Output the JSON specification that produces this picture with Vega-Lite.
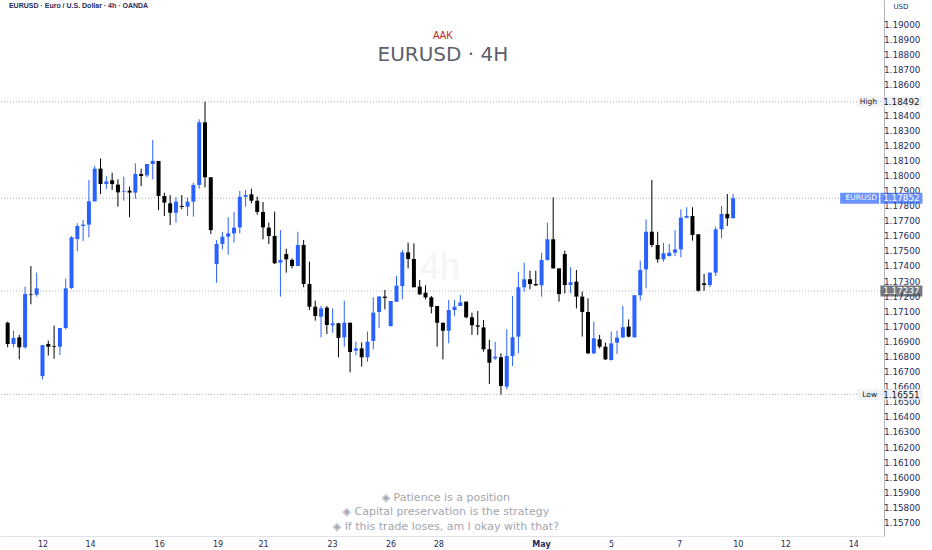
{
  "$schema": "https://vega.github.io/schema/vega-lite/v6.json",
  "description": "EURUSD 4h candles, OANDA",
  "autosize": {"type": "none"},
  "width": 884,
  "height": 536,
  "padding": {"left": 0, "top": 0, "right": 48, "bottom": 14},
  "background": "#ffffff",
  "config": {"view": {"stroke": null}, "font": "Liberation Sans", "axis": {"labelOverlap": false, "labelFlush": false, "grid": false, "ticks": false}},
  "datasets": {
    "candles": [
      {"t":0,"open":1.17027,"high":1.17034,"low":1.16864,"close":1.16886},
      {"t":1,"open":1.16886,"high":1.16974,"low":1.16864,"close":1.16926},
      {"t":2,"open":1.16930,"high":1.16946,"low":1.16784,"close":1.16864},
      {"t":3,"open":1.16864,"high":1.17266,"low":1.16855,"close":1.17217},
      {"t":4,"open":1.17217,"high":1.17403,"low":1.17149,"close":1.17213},
      {"t":5,"open":1.17213,"high":1.17359,"low":1.17200,"close":1.17255},
      {"t":6,"open":1.16674,"high":1.16879,"low":1.16652,"close":1.16879},
      {"t":7,"open":1.16886,"high":1.16908,"low":1.16809,"close":1.16868},
      {"t":8,"open":1.16873,"high":1.17008,"low":1.16789,"close":1.16868},
      {"t":9,"open":1.16868,"high":1.16992,"low":1.16813,"close":1.16992},
      {"t":10,"open":1.16992,"high":1.17319,"low":1.16983,"close":1.17255},
      {"t":11,"open":1.17257,"high":1.17600,"low":1.17250,"close":1.17593},
      {"t":12,"open":1.17582,"high":1.17686,"low":1.17500,"close":1.17668},
      {"t":13,"open":1.17668,"high":1.17708,"low":1.17569,"close":1.17677},
      {"t":14,"open":1.17677,"high":1.17973,"low":1.17593,"close":1.17831},
      {"t":15,"open":1.17831,"high":1.18066,"low":1.17831,"close":1.18048},
      {"t":16,"open":1.18048,"high":1.18116,"low":1.17880,"close":1.17946},
      {"t":17,"open":1.17946,"high":1.17999,"low":1.17913,"close":1.17964},
      {"t":18,"open":1.17971,"high":1.18021,"low":1.17907,"close":1.17946},
      {"t":19,"open":1.17942,"high":1.17977,"low":1.17796,"close":1.17891},
      {"t":20,"open":1.17893,"high":1.17995,"low":1.17836,"close":1.17898},
      {"t":21,"open":1.17902,"high":1.17929,"low":1.17726,"close":1.17889},
      {"t":22,"open":1.17889,"high":1.18083,"low":1.17849,"close":1.18013},
      {"t":23,"open":1.18013,"high":1.18048,"low":1.17933,"close":1.17999},
      {"t":24,"open":1.18004,"high":1.18079,"low":1.17991,"close":1.18079},
      {"t":25,"open":1.18079,"high":1.18238,"low":1.17977,"close":1.18099},
      {"t":26,"open":1.18099,"high":1.18099,"low":1.17774,"close":1.17867},
      {"t":27,"open":1.17867,"high":1.17889,"low":1.17734,"close":1.17823},
      {"t":28,"open":1.17818,"high":1.17873,"low":1.17675,"close":1.17756},
      {"t":29,"open":1.17756,"high":1.17858,"low":1.17690,"close":1.17829},
      {"t":30,"open":1.17801,"high":1.17873,"low":1.17778,"close":1.17794},
      {"t":31,"open":1.17796,"high":1.17858,"low":1.17734,"close":1.17829},
      {"t":32,"open":1.17829,"high":1.17955,"low":1.17730,"close":1.17940},
      {"t":33,"open":1.17940,"high":1.18375,"low":1.17915,"close":1.18355},
      {"t":34,"open":1.18355,"high":1.18492,"low":1.17924,"close":1.17991},
      {"t":35,"open":1.17991,"high":1.17991,"low":1.17615,"close":1.17641},
      {"t":36,"open":1.17416,"high":1.17575,"low":1.17292,"close":1.17549},
      {"t":37,"open":1.17549,"high":1.17630,"low":1.17513,"close":1.17597},
      {"t":38,"open":1.17597,"high":1.17726,"low":1.17478,"close":1.17619},
      {"t":39,"open":1.17619,"high":1.17761,"low":1.17558,"close":1.17657},
      {"t":40,"open":1.17659,"high":1.17900,"low":1.17619,"close":1.17862},
      {"t":41,"open":1.17862,"high":1.17907,"low":1.17796,"close":1.17873},
      {"t":42,"open":1.17878,"high":1.17915,"low":1.17818,"close":1.17836},
      {"t":43,"open":1.17836,"high":1.17862,"low":1.17743,"close":1.17761},
      {"t":44,"open":1.17761,"high":1.17827,"low":1.17580,"close":1.17659},
      {"t":45,"open":1.17657,"high":1.17690,"low":1.17549,"close":1.17602},
      {"t":46,"open":1.17602,"high":1.17763,"low":1.17416,"close":1.17421},
      {"t":47,"open":1.17425,"high":1.17641,"low":1.17200,"close":1.17443},
      {"t":48,"open":1.17482,"high":1.17518,"low":1.17359,"close":1.17447},
      {"t":49,"open":1.17443,"high":1.17454,"low":1.17387,"close":1.17403},
      {"t":50,"open":1.17403,"high":1.17630,"low":1.17403,"close":1.17542},
      {"t":51,"open":1.17542,"high":1.17575,"low":1.17262,"close":1.17284},
      {"t":52,"open":1.17284,"high":1.17432,"low":1.17111,"close":1.17133},
      {"t":53,"open":1.17133,"high":1.17173,"low":1.17041,"close":1.17072},
      {"t":54,"open":1.17067,"high":1.17138,"low":1.16930,"close":1.17122},
      {"t":55,"open":1.17127,"high":1.17138,"low":1.16952,"close":1.17012},
      {"t":56,"open":1.17010,"high":1.17122,"low":1.16961,"close":1.17023},
      {"t":57,"open":1.17023,"high":1.17027,"low":1.16798,"close":1.16926},
      {"t":58,"open":1.16930,"high":1.17173,"low":1.16868,"close":1.17027},
      {"t":59,"open":1.17027,"high":1.17027,"low":1.16698,"close":1.16833},
      {"t":60,"open":1.16842,"high":1.16901,"low":1.16811,"close":1.16857},
      {"t":61,"open":1.16857,"high":1.16897,"low":1.16736,"close":1.16798},
      {"t":62,"open":1.16798,"high":1.16968,"low":1.16769,"close":1.16901},
      {"t":63,"open":1.16906,"high":1.17195,"low":1.16851,"close":1.17094},
      {"t":64,"open":1.17098,"high":1.17204,"low":1.16992,"close":1.17200},
      {"t":65,"open":1.17200,"high":1.17244,"low":1.17116,"close":1.17191},
      {"t":66,"open":1.17005,"high":1.17171,"low":1.17001,"close":1.17171},
      {"t":67,"open":1.17166,"high":1.17337,"low":1.17166,"close":1.17273},
      {"t":68,"open":1.17270,"high":1.17509,"low":1.17182,"close":1.17493},
      {"t":69,"open":1.17493,"high":1.17558,"low":1.17387,"close":1.17449},
      {"t":70,"open":1.17449,"high":1.17553,"low":1.17262,"close":1.17262},
      {"t":71,"open":1.17266,"high":1.17310,"low":1.17211,"close":1.17215},
      {"t":72,"open":1.17226,"high":1.17275,"low":1.17182,"close":1.17195},
      {"t":73,"open":1.17195,"high":1.17204,"low":1.17089,"close":1.17133},
      {"t":74,"open":1.17138,"high":1.17138,"low":1.16868,"close":1.17027},
      {"t":75,"open":1.17027,"high":1.17027,"low":1.16784,"close":1.16974},
      {"t":76,"open":1.16974,"high":1.17178,"low":1.16890,"close":1.17111},
      {"t":77,"open":1.17111,"high":1.17178,"low":1.17072,"close":1.17133},
      {"t":78,"open":1.17138,"high":1.17211,"low":1.17138,"close":1.17162},
      {"t":79,"open":1.17167,"high":1.17167,"low":1.17056,"close":1.17063},
      {"t":80,"open":1.17063,"high":1.17094,"low":1.16946,"close":1.17010},
      {"t":81,"open":1.17010,"high":1.17105,"low":1.16946,"close":1.17001},
      {"t":82,"open":1.16996,"high":1.17045,"low":1.16835,"close":1.16851},
      {"t":83,"open":1.16851,"high":1.16913,"low":1.16621,"close":1.16762},
      {"t":84,"open":1.16791,"high":1.16901,"low":1.16780,"close":1.16802},
      {"t":85,"open":1.16798,"high":1.16824,"low":1.16551,"close":1.16608},
      {"t":86,"open":1.16603,"high":1.16983,"low":1.16586,"close":1.16807},
      {"t":87,"open":1.16807,"high":1.17204,"low":1.16740,"close":1.16930},
      {"t":88,"open":1.16935,"high":1.17365,"low":1.16824,"close":1.17262},
      {"t":89,"open":1.17262,"high":1.17425,"low":1.17233,"close":1.17315},
      {"t":90,"open":1.17315,"high":1.17372,"low":1.17248,"close":1.17284},
      {"t":91,"open":1.17284,"high":1.17372,"low":1.17270,"close":1.17275},
      {"t":92,"open":1.17275,"high":1.17491,"low":1.17200,"close":1.17443},
      {"t":93,"open":1.17443,"high":1.17690,"low":1.17438,"close":1.17580},
      {"t":94,"open":1.17580,"high":1.17858,"low":1.17387,"close":1.17387},
      {"t":95,"open":1.17387,"high":1.17387,"low":1.17167,"close":1.17217},
      {"t":96,"open":1.17482,"high":1.17505,"low":1.17222,"close":1.17277},
      {"t":97,"open":1.17277,"high":1.17394,"low":1.17222,"close":1.17295},
      {"t":98,"open":1.17299,"high":1.17376,"low":1.17122,"close":1.17200},
      {"t":99,"open":1.17200,"high":1.17233,"low":1.16935,"close":1.17098},
      {"t":100,"open":1.17098,"high":1.17189,"low":1.16820,"close":1.16824},
      {"t":101,"open":1.16824,"high":1.17034,"low":1.16820,"close":1.16924},
      {"t":102,"open":1.16917,"high":1.16946,"low":1.16857,"close":1.16868},
      {"t":103,"open":1.16868,"high":1.16895,"low":1.16780,"close":1.16784},
      {"t":104,"open":1.16780,"high":1.16968,"low":1.16776,"close":1.16890},
      {"t":105,"open":1.16895,"high":1.16974,"low":1.16820,"close":1.16928},
      {"t":106,"open":1.16930,"high":1.17138,"low":1.16924,"close":1.16997},
      {"t":107,"open":1.17001,"high":1.17049,"low":1.16930,"close":1.16935},
      {"t":108,"open":1.16930,"high":1.17209,"low":1.16930,"close":1.17209},
      {"t":109,"open":1.17209,"high":1.17438,"low":1.17173,"close":1.17376},
      {"t":110,"open":1.17381,"high":1.17712,"low":1.17255,"close":1.17630},
      {"t":111,"open":1.17630,"high":1.17973,"low":1.17527,"close":1.17542},
      {"t":112,"open":1.17542,"high":1.17630,"low":1.17425,"close":1.17447},
      {"t":113,"open":1.17447,"high":1.17557,"low":1.17432,"close":1.17487},
      {"t":114,"open":1.17469,"high":1.17549,"low":1.17465,"close":1.17491},
      {"t":115,"open":1.17491,"high":1.17641,"low":1.17469,"close":1.17513},
      {"t":116,"open":1.17513,"high":1.17778,"low":1.17460,"close":1.17723},
      {"t":117,"open":1.17723,"high":1.17792,"low":1.17719,"close":1.17734},
      {"t":118,"open":1.17734,"high":1.17792,"low":1.17571,"close":1.17608},
      {"t":119,"open":1.17613,"high":1.17613,"low":1.17233,"close":1.17239},
      {"t":120,"open":1.17288,"high":1.17350,"low":1.17239,"close":1.17277},
      {"t":121,"open":1.17277,"high":1.17359,"low":1.17262,"close":1.17359},
      {"t":122,"open":1.17359,"high":1.17664,"low":1.17337,"close":1.17646},
      {"t":123,"open":1.17646,"high":1.17801,"low":1.17586,"close":1.17748},
      {"t":124,"open":1.17748,"high":1.17880,"low":1.17668,"close":1.17719},
      {"t":125,"open":1.17719,"high":1.17880,"low":1.17719,"close":1.17852}
    ],
    "levels": [
      {"price": 1.18492, "name": "High", "kind": "hl"},
      {"price": 1.17852, "name": "EURUSD", "kind": "last"},
      {"price": 1.17237, "name": "", "kind": "line"},
      {"price": 1.16551, "name": "Low", "kind": "hl"}
    ],
    "priceTicks": [
      {"p": 1.157}, {"p": 1.158}, {"p": 1.159}, {"p": 1.160}, {"p": 1.161}, {"p": 1.162}, {"p": 1.163}, {"p": 1.164}, {"p": 1.165}, {"p": 1.166}, {"p": 1.167},
      {"p": 1.168}, {"p": 1.169}, {"p": 1.170}, {"p": 1.171}, {"p": 1.172}, {"p": 1.173}, {"p": 1.174}, {"p": 1.175}, {"p": 1.176}, {"p": 1.177}, {"p": 1.178},
      {"p": 1.179}, {"p": 1.180}, {"p": 1.181}, {"p": 1.182}, {"p": 1.183}, {"p": 1.184}, {"p": 1.186}, {"p": 1.187}, {"p": 1.188}, {"p": 1.189}, {"p": 1.190}
    ]
  },
  "layer": [
    {
      "data": {"values": [{"label": "4h"}]},
      "mark": {"type": "text", "fontSize": 36, "color": "#f4f5f7", "align": "center", "baseline": "middle"},
      "encoding": {
        "x": {
          "datum": 74.5, "type": "quantitative",
          "scale": {"domain": [-0.46, 150.14], "nice": false, "zero": false},
          "axis": {
            "values": [6.01, 14.19, 26.1, 36.17, 44, 55.9, 65.98, 74.2, 91.9, 103.97, 115.7, 125.8, 134, 145.7],
            "labelExpr": "datum.value == 91.9 ? 'May' : (datum.value == 6.01 || datum.value == 134) ? '12' : (datum.value == 14.19 || datum.value == 145.7) ? '14' : datum.value == 26.1 ? '16' : datum.value == 36.17 ? '19' : datum.value == 44 ? '21' : datum.value == 55.9 ? '23' : datum.value == 65.98 ? '26' : datum.value == 74.2 ? '28' : datum.value == 103.97 ? '5' : datum.value == 115.7 ? '7' : '10'",
            "labelFontWeight": {"condition": {"test": "datum.value == 91.9", "value": "bold"}, "value": "normal"},
            "labelFont": "DejaVu Sans",
            "labelFontSize": 8,
            "labelColor": "#1f2b5b",
            "labelPadding": 4,
            "domainColor": "#e0e3eb",
            "title": null
          }
        },
        "y": {
          "datum": 1.1739, "type": "quantitative",
          "scale": {"domain": [1.156136, 1.191657], "nice": false, "zero": false},
          "axis": {
            "orient": "right",
            "values": [1.19],
            "labels": false,
            "domainColor": "#b2b5be",
            "title": "USD",
            "titleAngle": 0,
            "titleX": 9,
            "titleY": 6,
            "titleAlign": "left",
            "titleBaseline": "middle",
            "titleFont": "DejaVu Sans",
            "titleFontSize": 7,
            "titleFontWeight": "normal",
            "titleColor": "#1f2b5b"
          }
        },
        "text": {"field": "label"}
      }
    },
    {
      "data": {"name": "priceTicks"},
      "mark": {"type": "text", "font": "DejaVu Sans", "fontSize": 8.8, "color": "#1f2b5b", "align": "left", "baseline": "middle"},
      "encoding": {
        "x": {"datum": 151.0, "type": "quantitative"},
        "y": {"field": "p", "type": "quantitative"},
        "text": {"field": "p", "format": ".5f"}
      }
    },
    {
      "data": {"name": "levels"},
      "mark": {"type": "rule", "color": "#b2b5be", "strokeDash": [1, 2], "strokeWidth": 1},
      "encoding": {
        "y": {"field": "price", "type": "quantitative"}
      }
    },
    {
      "data": {"name": "candles"},
      "mark": {"type": "rule", "strokeWidth": 1},
      "encoding": {
        "x": {"field": "t", "type": "quantitative"},
        "y": {"field": "low", "type": "quantitative"},
        "y2": {"field": "high"},
        "color": {"condition": {"test": "datum.close >= datum.open", "value": "#2962ff"}, "value": "#000000"}
      }
    },
    {
      "data": {"name": "candles"},
      "mark": {"type": "bar", "width": 4},
      "encoding": {
        "x": {"field": "t", "type": "quantitative"},
        "y": {"field": "open", "type": "quantitative"},
        "y2": {"field": "close"},
        "color": {"condition": {"test": "datum.close >= datum.open", "value": "#2962ff"}, "value": "#000000"}
      }
    },
    {
      "data": {"name": "levels"},
      "mark": {"type": "tick", "orient": "horizontal", "size": 42, "thickness": 11},
      "encoding": {
        "x": {"datum": 154.0, "type": "quantitative"},
        "y": {"field": "price", "type": "quantitative"},
        "color": {"condition": [{"test": "datum.kind == 'hl'", "value": "#eceef2"}, {"test": "datum.kind == 'last'", "value": "#2962ff"}], "value": "#3c3f48"}
      }
    },
    {
      "data": {"name": "levels"},
      "mark": {"type": "text", "font": "DejaVu Sans", "fontSize": 8.8, "align": "center", "baseline": "middle"},
      "encoding": {
        "x": {"datum": 154.0, "type": "quantitative"},
        "y": {"field": "price", "type": "quantitative"},
        "text": {"field": "price", "format": ".5f"},
        "color": {"condition": {"test": "datum.kind == 'hl'", "value": "#131722"}, "value": "#ffffff"}
      }
    },
    {
      "data": {"name": "levels"},
      "transform": [{"filter": "datum.kind == 'hl'"}],
      "mark": {"type": "tick", "orient": "horizontal", "size": 22, "thickness": 11, "color": "#eceef2"},
      "encoding": {
        "x": {"datum": 148.3, "type": "quantitative"},
        "y": {"field": "price", "type": "quantitative"}
      }
    },
    {
      "data": {"name": "levels"},
      "transform": [{"filter": "datum.kind == 'last'"}],
      "mark": {"type": "tick", "orient": "horizontal", "size": 39, "thickness": 11, "color": "#2962ff"},
      "encoding": {
        "x": {"datum": 146.8, "type": "quantitative"},
        "y": {"field": "price", "type": "quantitative"}
      }
    },
    {
      "data": {"name": "levels"},
      "transform": [{"filter": "datum.name != ''"}],
      "mark": {"type": "text", "font": "DejaVu Sans", "fontSize": 7.5, "align": "right", "baseline": "middle"},
      "encoding": {
        "x": {"datum": 149.8, "type": "quantitative"},
        "y": {"field": "price", "type": "quantitative"},
        "text": {"field": "name"},
        "color": {"condition": {"test": "datum.kind == 'hl'", "value": "#131722"}, "value": "#ffffff"}
      }
    },
    {
      "data": {"values": [{"label": "EURUSD · Euro / U.S. Dollar · 4h · OANDA"}]},
      "mark": {"type": "text", "fontSize": 7, "fontWeight": "bold", "color": "#1f2b5b", "align": "left", "baseline": "middle"},
      "encoding": {
        "x": {"datum": 0.22, "type": "quantitative"},
        "y": {"datum": 1.19126, "type": "quantitative"},
        "text": {"field": "label"}
      }
    },
    {
      "data": {"values": [{"label": "AAK"}]},
      "mark": {"type": "text", "fontSize": 10, "color": "#c62828", "align": "center", "baseline": "middle"},
      "encoding": {
        "x": {"datum": 75.0, "type": "quantitative"},
        "y": {"datum": 1.18927, "type": "quantitative"},
        "text": {"field": "label"}
      }
    },
    {
      "data": {"values": [{"label": "EURUSD  ·  4H"}]},
      "mark": {"type": "text", "font": "DejaVu Sans", "fontSize": 20, "color": "#5d606b", "align": "center", "baseline": "middle"},
      "encoding": {
        "x": {"datum": 75.0, "type": "quantitative"},
        "y": {"datum": 1.18801, "type": "quantitative"},
        "text": {"field": "label"}
      }
    },
    {
      "data": {"values": [{"label": "notes"}]},
      "mark": {
        "type": "text",
        "text": ["◈  Patience is a position", "◈  Capital preservation is the strategy", "◈  If this trade loses, am I okay with that?"],
        "font": "DejaVu Sans",
        "fontSize": 11,
        "lineHeight": 14.5,
        "color": "#a3a6af",
        "align": "center",
        "baseline": "alphabetic"
      },
      "encoding": {
        "x": {"datum": 75.5, "type": "quantitative"},
        "y": {"datum": 1.15846, "type": "quantitative"}
      }
    }
  ]
}
